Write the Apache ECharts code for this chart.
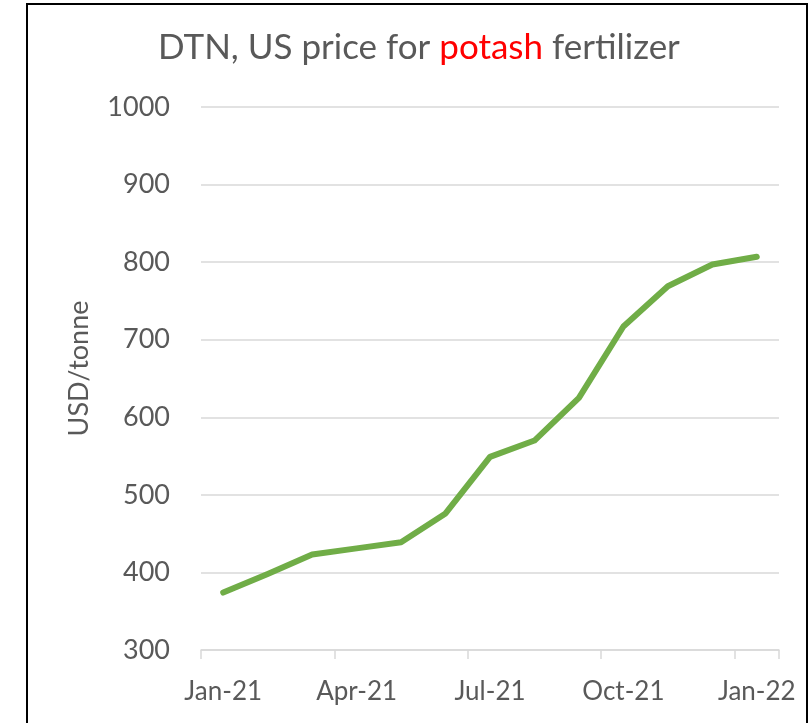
<!DOCTYPE html>
<html><head><meta charset="utf-8">
<script src="https://cdn.jsdelivr.net/npm/echarts@6/dist/echarts.min.js"></script>
<style>html,body{margin:0;padding:0;background:#fff}#c{width:810px;height:723px}</style>
</head><body><div id="c"></div>
<script>
const categories = ['Jan-21','Feb-21','Mar-21','Apr-21','May-21','Jun-21','Jul-21','Aug-21','Sep-21','Oct-21','Nov-21','Dec-21','Jan-22'];
const priceValues = [374, 398, 423, 431, 439, 476, 549, 570, 625, 717, 769, 797, 807];
const yTicks = [300, 400, 500, 600, 700, 800, 900, 1000];

const FONT = 'Lato';
const chart = echarts.init(document.getElementById('c'), null, {renderer: 'canvas'});
chart.setOption({
  animation: false,
  backgroundColor: '#ffffff',
  title: {
    text: '{g|DTN, US price for }{r|potash}{g| fertilizer}',
    left: 153, top: 25,
    textStyle: {
      fontWeight: 'normal',
      rich: {
        g: {color: '#595959', fontSize: 35, fontFamily: FONT, fontWeight: 'normal'},
        r: {color: '#ff0000', fontSize: 35, fontFamily: FONT, fontWeight: 'normal'}
      }
    }
  },
  graphic: [{
    type: 'rect', silent: true, z: 100,
    shape: {x: 27, y: 4, width: 780, height: 740},
    style: {fill: null, stroke: '#000000', lineWidth: 2}
  }],
  grid: {left: 201, right: 31, top: 107, bottom: 73},
  xAxis: {
    type: 'category',
    data: categories,
    boundaryGap: true,
    axisLine: {lineStyle: {color: '#d9d9d9', width: 1.5}},
    axisTick: {show: true, interval: 2, alignWithLabel: false, length: 9, lineStyle: {color: '#d9d9d9', width: 1.5}},
    axisLabel: {interval: 2, margin: 29, color: '#595959', fontSize: 26, fontFamily: FONT},
    splitLine: {show: false}
  },
  yAxis: {
    type: 'value',
    min: yTicks[0], max: yTicks[yTicks.length - 1], interval: 100,
    name: 'USD/tonne',
    nameLocation: 'middle',
    nameGap: 108,
    nameTextStyle: {color: '#595959', fontSize: 27, fontFamily: FONT, padding: [0, 0, 0, 20]},
    axisLine: {show: false},
    axisTick: {show: false},
    axisLabel: {margin: 31, color: '#595959', fontSize: 27, fontFamily: FONT, formatter: function (v) { return String(v); }},
    splitLine: {lineStyle: {color: '#d9d9d9', width: 1.5}}
  },
  series: [{
    type: 'line',
    data: priceValues,
    symbol: 'none',
    lineStyle: {color: '#70ad47', width: 6, cap: 'round', join: 'round'}
  }]
});
</script></body></html>
